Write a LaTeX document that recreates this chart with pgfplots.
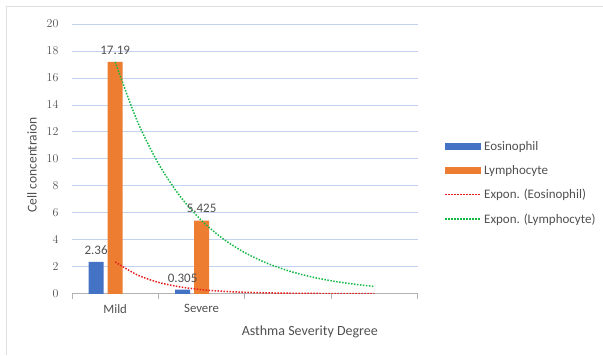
\documentclass[border=0pt]{standalone}
\usepackage{pgfplots}
\pgfplotsset{compat=1.18}
\usepackage{fontspec}
\setmainfont{Carlito}
\definecolor{eos}{RGB}{68,114,196}
\definecolor{lym}{RGB}{237,125,49}
\definecolor{gridc}{RGB}{195,210,238}
\definecolor{txt}{RGB}{80,80,80}
\definecolor{trr}{RGB}{230,30,30}
\definecolor{trg}{RGB}{20,185,70}
\begin{document}
\begin{tikzpicture}[x=1pt,y=1pt]
\path (0,0) rectangle (603,355);
\draw[gray!25, line width=1pt] (7,0) -- (7,348) -- (603,348);
\begin{axis}[
  at={(72pt,61pt)}, anchor=south west,
  scale only axis, width=346pt, height=270pt,
  xmin=0.5, xmax=4.5, ymin=0, ymax=20,
  ytick={0,2,...,20},
  xtick={0.5,1.5,2.5,3.5,4.5},
  xticklabels={Mild,Severe,{},{}},
  x tick label as interval,
  axis x line*=bottom, axis y line*=left,
  x axis line style={draw=gray!60, line width=0.8pt, -},
  y axis line style={draw=none},
  ytick style={draw=none},
  xtick style={draw=gray!60, line width=0.8pt},
  tick align=outside, major tick length=5pt,
  ymajorgrids, grid style={gridc, line width=0.8pt},
  tick label style={font=\fontsize{12.8}{14}\selectfont, text=txt},
  y tick label style={xshift=-5pt},
  x tick label style={yshift=-2pt},
  xlabel={Asthma Severity Degree},
  xlabel style={at={(axis description cs:0.688,-0.141)}, anchor=center, font=\fontsize{14}{16}\selectfont, text=txt},
  ylabel={Cell concentraion},
  ylabel style={at={(axis description cs:-0.1156,0.478)}, anchor=center, font=\fontsize{13.5}{15}\selectfont, text=txt},
  legend style={at={(axis description cs:1.069,0.581)}, anchor=north west, draw=none, fill=none,
    font=\fontsize{13}{15}\selectfont, text=txt, row sep=9.5pt},
  legend cell align=left,
]
\addplot[ybar, bar width=15pt, bar shift=0pt, fill=eos, draw=none,
  point meta=explicit symbolic, nodes near coords,
  every node near coord/.append style={font=\fontsize{13}{14}\selectfont, text=txt, yshift=4pt},
  legend image code/.code={\fill[eos] (0pt,-3.5pt) rectangle (36pt,3.5pt);}]
  coordinates {(0.78,2.36) [2.36] (1.78,0.305) [0.305]};
\addlegendentry{Eosinophil}
\addplot[ybar, bar width=15pt, bar shift=0pt, fill=lym, draw=none,
  point meta=explicit symbolic, nodes near coords,
  every node near coord/.append style={font=\fontsize{13}{14}\selectfont, text=txt, yshift=4pt},
  legend image code/.code={\fill[lym] (0pt,-3.5pt) rectangle (36pt,3.5pt);}]
  coordinates {(1,17.19) [17.19] (2,5.425) [5.425]};
\addlegendentry{Lymphocyte}
\addplot[trr, line width=1.5pt, dash pattern=on 1.5pt off 1.5pt, smooth, no marks,
  legend image code/.code={\draw[trr, line width=1.5pt, dash pattern=on 1.5pt off 1.5pt] (0pt,0pt) -- (36pt,0pt);}]
  coordinates {(1,2.36) (1.25,1.415) (1.5,0.848) (1.75,0.509) (2,0.305) (2.25,0.183) (2.5,0.110) (2.75,0.066) (3,0.039) (3.25,0.024) (3.5,0.014) (3.75,0.009) (4,0.005)};
\addlegendentry{Expon. (Eosinophil)}
\addplot[trg, line width=1.5pt, dash pattern=on 1.5pt off 1.5pt, smooth, no marks,
  legend image code/.code={\draw[trg, line width=1.5pt, dash pattern=on 1.5pt off 1.5pt] (0pt,0pt) -- (36pt,0pt);}]
  coordinates {(1,17.19) (1.25,12.886) (1.5,9.657) (1.75,7.239) (2,5.425) (2.25,4.067) (2.5,3.048) (2.75,2.285) (3,1.712) (3.25,1.283) (3.5,0.962) (3.75,0.721) (4,0.540)};
\addlegendentry{Expon. (Lymphocyte)}
\end{axis}
\end{tikzpicture}
\end{document}
